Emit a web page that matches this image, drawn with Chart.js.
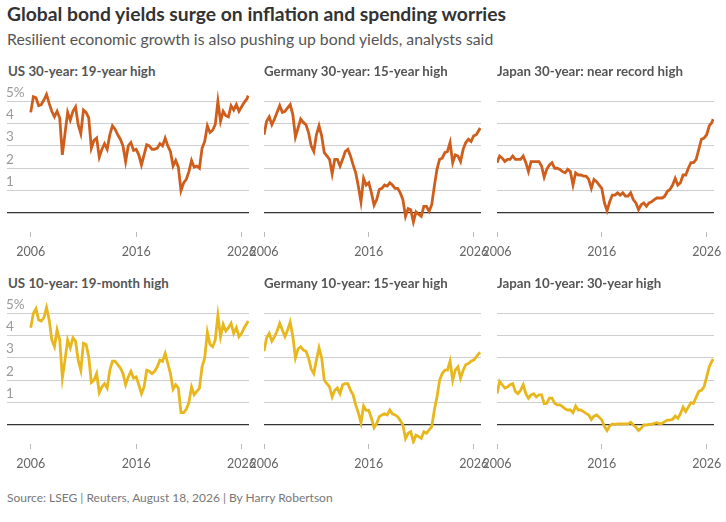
<!DOCTYPE html>
<html>
<head>
<meta charset="utf-8">
<script src="https://cdn.jsdelivr.net/npm/chart.js@4.4.1/dist/chart.umd.min.js"></script>
<style>
  body { margin: 0; background: #fff; font-family: Lato, "Noto Sans", sans-serif; }
  #wrap { position: relative; width: 726px; height: 522px; overflow: hidden; }
  .t { position: absolute; white-space: nowrap; }
  #title { left: 7px; top: 2px; font-size: 19.3px; font-weight: 700; color: #333; }
  #sub { left: 7px; top: 29px; font-size: 15.8px; color: #555; }
  .pt { font-size: 13.3px; font-weight: 700; color: #555; }
  #src { left: 7px; top: 490px; font-size: 12px; color: #777; }
  canvas { position: absolute; }
</style>
</head>
<body>
<div id="wrap">
  <div class="t" id="title">Global bond yields surge on inflation and spending worries</div>
  <div class="t" id="sub">Resilient economic growth is also pushing up bond yields, analysts said</div>
  <div class="t" id="src">Source: LSEG | Reuters, August 18, 2026 | By Harry Robertson</div>
</div>
<script>
// quarterly observations, decimal years
const dates = [
  2006.0, 2006.25, 2006.5, 2006.75, 2007.0, 2007.25, 2007.5, 2007.75,
  2008.0, 2008.25, 2008.5, 2008.75, 2009.0, 2009.25, 2009.5, 2009.75,
  2010.0, 2010.25, 2010.5, 2010.75, 2011.0, 2011.25, 2011.5, 2011.75,
  2012.0, 2012.25, 2012.5, 2012.75, 2013.0, 2013.25, 2013.5, 2013.75,
  2014.0, 2014.25, 2014.5, 2014.75, 2015.0, 2015.25, 2015.5, 2015.75,
  2016.0, 2016.25, 2016.5, 2016.75, 2017.0, 2017.25, 2017.5, 2017.75,
  2018.0, 2018.25, 2018.5, 2018.75, 2019.0, 2019.25, 2019.5, 2019.75,
  2020.0, 2020.25, 2020.5, 2020.75, 2021.0, 2021.25, 2021.5, 2021.75,
  2022.0, 2022.25, 2022.5, 2022.75, 2023.0, 2023.25, 2023.5, 2023.75,
  2024.0, 2024.25, 2024.5, 2024.75, 2025.0, 2025.25, 2025.5, 2025.75,
  2026.0, 2026.25, 2026.5, 2026.62,
];

const us30 = [
  4.5, 5.2, 5.15, 4.8, 4.85, 5.05, 5.3, 4.9, 4.55, 4.3, 4.55, 4.25,
  2.6, 3.55, 4.5, 4.15, 4.55, 4.75, 3.95, 3.55, 4.6, 4.5, 4.25, 2.9,
  3.25, 3.35, 2.5, 2.85, 3.1, 2.85, 3.5, 3.9, 3.75, 3.5, 3.3, 3.0,
  2.3, 3.0, 3.15, 2.8, 2.85, 2.6, 2.15, 2.6, 3.05, 3.0, 2.85, 2.85,
  2.9, 3.1, 3.0, 3.35, 3.0, 2.75, 2.1, 2.35, 2.05, 1.0, 1.35, 1.5,
  1.85, 2.35, 2.05, 2.1, 2.0, 2.9, 3.2, 3.9, 3.6, 3.7, 3.95, 5.0,
  4.1, 4.55, 4.35, 4.3, 4.8, 4.6, 4.85, 4.55, 4.75, 4.95, 5.1, 5.25,
];

const de30 = [
  3.5, 4.1, 4.3, 3.95, 4.2, 4.5, 4.8, 4.5, 4.55, 4.7, 4.85, 4.4,
  3.4, 3.8, 4.2, 4.05, 3.95, 3.6, 3.0, 2.75, 3.5, 3.9, 3.45, 2.7,
  2.55, 2.4, 1.75, 2.4, 2.4, 2.1, 2.4, 2.75, 2.85, 2.55, 2.15, 1.8,
  1.2, 0.5, 1.55, 1.25, 1.35, 0.9, 0.35, 0.6, 1.05, 1.1, 1.25, 1.2,
  1.35, 1.25, 1.1, 1.1, 0.9, 0.6, -0.15, 0.2, 0.15, -0.4, 0.05, -0.05,
  -0.15, 0.3, 0.3, 0.07, 0.37, 1.2, 1.95, 2.4, 2.45, 2.7, 2.75, 3.15,
  2.25, 2.6, 2.55, 2.3, 2.85, 3.15, 3.3, 3.2, 3.45, 3.5, 3.7, 3.8,
];

const jp30 = [
  2.25, 2.55, 2.45, 2.3, 2.4, 2.4, 2.55, 2.4, 2.4, 2.4, 2.55, 2.25,
  1.85, 2.3, 2.3, 2.3, 2.3, 2.1, 1.6, 1.95, 2.15, 2.25, 2.0, 2.0,
  1.95, 1.85, 1.8, 1.95, 1.85, 1.25, 1.8, 1.7, 1.7, 1.65, 1.65, 1.5,
  1.1, 1.5, 1.4, 1.25, 1.1, 0.45, 0.1, 0.5, 0.8, 0.8, 0.9, 0.8,
  0.9, 0.75, 0.75, 0.9, 0.6, 0.45, 0.15, 0.37, 0.45, 0.3, 0.45, 0.5,
  0.6, 0.67, 0.67, 0.67, 0.75, 0.97, 1.05, 1.25, 1.55, 1.25, 1.35, 1.7,
  1.7, 2.0, 2.25, 2.25, 2.4, 2.85, 3.3, 3.35, 3.5, 3.9, 4.05, 4.2,
];

const us10 = [
  4.35, 5.0, 5.2, 4.7, 4.65, 4.8, 5.25, 4.7, 3.8, 3.5, 4.25, 3.8,
  2.1, 2.9, 3.8, 3.45, 3.9, 3.75, 2.9, 2.45, 3.65, 3.6, 3.05, 1.9,
  2.0, 2.3, 1.45, 1.7, 1.85, 1.65, 2.45, 2.85, 2.85, 2.7, 2.55, 2.3,
  1.8, 2.15, 2.4, 2.1, 2.15, 1.8, 1.4, 1.7, 2.45, 2.4, 2.3, 2.4,
  2.6, 2.9, 2.85, 3.2, 2.75, 2.3, 1.6, 1.8, 1.65, 0.55, 0.55, 0.7,
  1.0, 1.7, 1.35, 1.5, 1.65, 2.6, 3.0, 4.15, 3.6, 3.5, 3.8, 4.9,
  3.95, 4.5, 4.2, 4.35, 4.55, 4.1, 4.35, 3.95, 4.1, 4.35, 4.55, 4.65,
];

const de10 = [
  3.3, 3.9, 4.1, 3.75, 3.95, 4.2, 4.55, 4.25, 3.95, 4.25, 4.6, 3.95,
  3.0, 3.4, 3.5, 3.35, 3.3, 3.0, 2.5, 2.3, 2.9, 3.45, 3.0, 2.0,
  1.85, 1.7, 1.25, 1.55, 1.65, 1.4, 1.8, 1.85, 1.85, 1.55, 1.35, 0.9,
  0.55, 0.1, 0.85, 0.65, 0.65, 0.3, -0.12, 0.07, 0.37, 0.45, 0.5, 0.45,
  0.67, 0.5, 0.45, 0.37, 0.2, 0.0, -0.6, -0.37, -0.3, -0.75, -0.45, -0.52,
  -0.6, -0.3, -0.37, -0.22, -0.07, 0.67, 1.25, 2.0, 2.3, 2.45, 2.45, 2.85,
  2.0, 2.45, 2.6, 2.1, 2.45, 2.7, 2.75, 2.85, 2.9, 3.05, 3.2, 3.25,
];

const jp10 = [
  1.4, 1.95, 1.8, 1.65, 1.7, 1.8, 1.85, 1.5, 1.4, 1.55, 1.8, 1.4,
  1.2, 1.35, 1.4, 1.25, 1.35, 1.35, 0.95, 0.97, 1.2, 1.2, 0.97, 0.9,
  0.9, 0.82, 0.72, 0.67, 0.67, 0.55, 0.85, 0.67, 0.67, 0.6, 0.52, 0.45,
  0.25, 0.4, 0.45, 0.35, 0.22, -0.07, -0.25, -0.05, 0.05, 0.03, 0.05, 0.05,
  0.05, 0.05, 0.05, 0.12, 0.0, -0.1, -0.25, -0.15, 0.0, 0.0, 0.03, 0.03,
  0.07, 0.1, 0.05, 0.07, 0.15, 0.22, 0.22, 0.25, 0.4, 0.3, 0.5, 0.8,
  0.6, 0.8, 1.0, 0.97, 1.25, 1.5, 1.55, 1.7, 2.15, 2.6, 2.85, 2.95,
];

const yTicks = [0, 1, 2, 3, 4, 5];
const xTicks = [2006, 2016, 2026];

const orange = "#cf5e1d";
const yellow = "#e8b71d";

const PADX = 24;       // room for edge tick labels
const PADTOP = 14;     // room for the top y label
const PLOT_H = 142;    // height of each plot area
const AXIS_H = 41;     // height of the x axis under it
const rowTop = [90, 302];

const panels = [
  { title: "US 30-year: 19-year high", data: us30, color: orange, row: 0, left: 7, width: 242, xMin: 2003.75, labels: true },
  { title: "Germany 30-year: 15-year high", data: de30, color: orange, row: 0, left: 264, width: 217, xMin: 2006, labels: false },
  { title: "Japan 30-year: near record high", data: jp30, color: orange, row: 0, left: 497, width: 217, xMin: 2006, labels: false },
  { title: "US 10-year: 19-month high", data: us10, color: yellow, row: 1, left: 7, width: 242, xMin: 2003.75, labels: true },
  { title: "Germany 10-year: 15-year high", data: de10, color: yellow, row: 1, left: 264, width: 217, xMin: 2006, labels: false },
  { title: "Japan 10-year: 30-year high", data: jp10, color: yellow, row: 1, left: 497, width: 217, xMin: 2006, labels: false },
];

const wrap = document.getElementById("wrap");

const noPadding = (scale) => {
  scale.paddingLeft = 0;
  scale.paddingRight = 0;
  scale.paddingTop = 0;
  scale.paddingBottom = 0;
};

panels.forEach((p) => {
  const head = document.createElement("div");
  head.className = "t pt";
  head.textContent = p.title;
  head.style.left = p.left + (p.labels ? 1 : 0) + "px";
  head.style.top = rowTop[p.row] - 27 + "px";
  wrap.appendChild(head);

  const canvas = document.createElement("canvas");
  canvas.width = p.width + PADX * 2;
  canvas.height = PADTOP + PLOT_H + AXIS_H;
  canvas.style.left = p.left - PADX + "px";
  canvas.style.top = rowTop[p.row] - PADTOP + "px";
  wrap.appendChild(canvas);

  new Chart(canvas, {
    type: "line",
    data: {
      datasets: [
        {
          data: dates.map((d, i) => ({ x: d, y: p.data[i] })),
          borderColor: p.color,
          borderWidth: 2.8,
          pointRadius: 0,
          tension: 0,
        },
      ],
    },
    options: {
      responsive: false,
      animation: false,
      layout: { padding: { left: PADX, right: PADX, top: PADTOP, bottom: 0 } },
      plugins: { legend: { display: false }, tooltip: { enabled: false } },
      scales: {
        x: {
          type: "linear",
          min: p.xMin,
          max: 2026.7,
          afterBuildTicks: (axis) => {
            axis.ticks = xTicks.map((v) => ({ value: v }));
          },
          afterFit: (scale) => {
            noPadding(scale);
            scale.height = AXIS_H;
          },
          border: { display: false },
          grid: {
            drawOnChartArea: false,
            drawTicks: true,
            tickLength: 5,
            color: "#bbb",
          },
          ticks: {
            padding: 7,
            maxRotation: 0,
            color: "#666",
            font: { family: "Lato", size: 12.5 },
            callback: (v) => String(v),
          },
        },
        y: {
          min: -0.85,
          max: 5.5,
          afterBuildTicks: (axis) => {
            axis.ticks = yTicks.map((v) => ({ value: v }));
          },
          afterFit: (scale) => {
            noPadding(scale);
            scale.width = 0;
          },
          border: { display: false },
          grid: {
            drawTicks: false,
            color: (ctx) => (ctx.tick.value === 0 ? "#333" : "#cfcfcf"),
            lineWidth: (ctx) => (ctx.tick.value === 0 ? 1.3 : 1),
          },
          ticks: {
            display: p.labels,
            mirror: true,
            padding: -1,
            labelOffset: -9,
            color: "#9a9a9a",
            font: { family: "Lato", size: 13.5 },
            callback: (v) => (v === 5 ? "5%" : v === 0 ? "" : String(v)),
          },
        },
      },
    },
  });
});
</script>
</body>
</html>
